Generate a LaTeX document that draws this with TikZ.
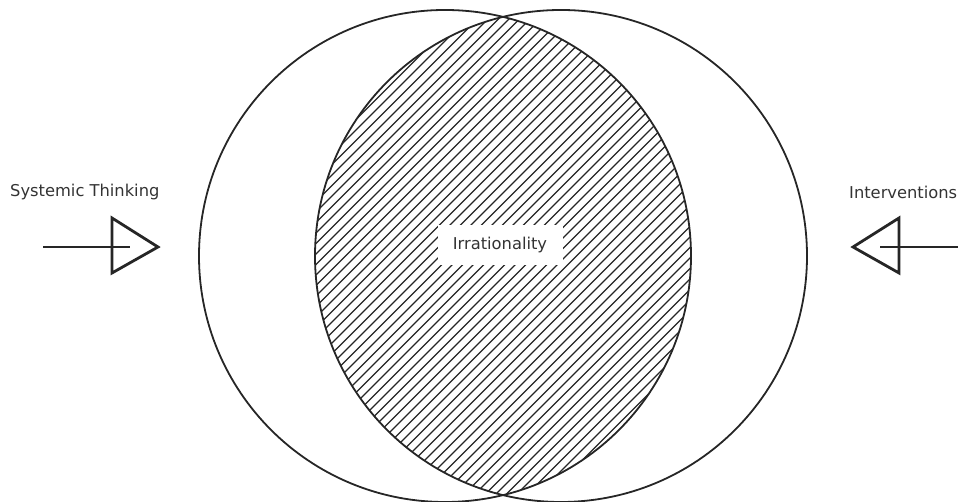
\documentclass[tikz,border=0pt]{standalone}
\usepackage{fontspec}
\setmainfont{DejaVu Sans}
\usepackage{tikz}
\usetikzlibrary{calc}

\begin{document}
\begin{tikzpicture}[x=1pt,y=1pt,
  ring/.style={line width=1.8pt,color=black!85},
  hatchline/.style={line width=1.4pt,color=black!85},
  arrowline/.style={line width=2.8pt,color=black!85,line join=miter},
  label/.style={inner sep=0pt,anchor=west,text=black!80,font=\fontsize{16.3}{19}\selectfont}]
\useasboundingbox (0,0) rectangle (958,502);

\coordinate (lc) at (445,246);
\coordinate (rc) at (561,246);
\coordinate (mid) at (503,246);

% hatched overlap
\begin{scope}
\clip (lc) circle (246);
\clip (rc) circle (246);
\foreach \k in {-40,...,40}
  \draw[hatchline] ($(mid)+(\k*10.5-300,-300)$) -- ++(600,600);
\end{scope}

\draw[ring] (lc) circle (246);
\draw[ring] (rc) circle (246);

\node[fill=white,minimum width=125,minimum height=40,inner sep=0pt,
  text=black!80,font=\fontsize{16.3}{19}\selectfont] (irr) at (500,257) {Irrationality};

% left input
\node[label] (sys) at (10,310) {Systemic Thinking};
\coordinate (s1) at (43,255);
\coordinate (s2) at (130,255);
\draw[arrowline] (s1) -- (s2);
\draw[arrowline] (112,284) -- (158,255) -- (112,229) -- cycle;

% right input
\node[label] (int) at (849,310) {Interventions};
\coordinate (i1) at (958,255);
\coordinate (i2) at (880,255);
\draw[arrowline] (i1) -- (i2);
\draw[arrowline] (899,284) -- (853,255) -- (899,229) -- cycle;
\end{tikzpicture}
\end{document}
